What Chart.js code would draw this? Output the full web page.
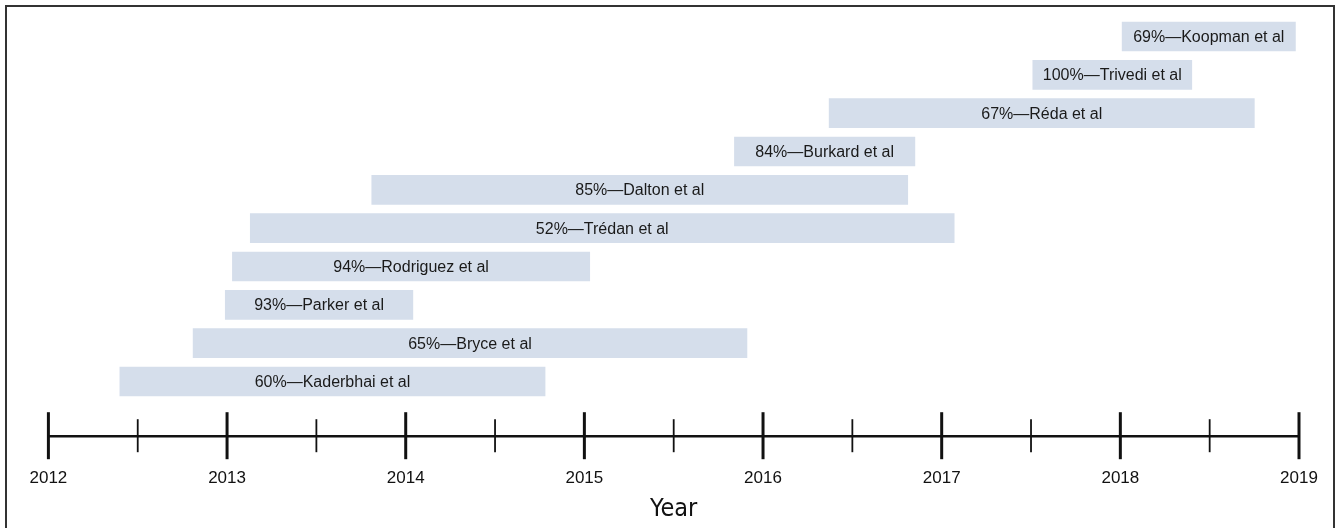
<!DOCTYPE html>
<html>
<head>
<meta charset="utf-8">
<script src="https://cdn.jsdelivr.net/npm/chart.js@4/dist/chart.umd.min.js"></script>
<style>
  body { margin: 0; background: #fff; }
  #wrap { width: 1339px; height: 528px; position: relative; }
</style>
</head>
<body>
<div id="wrap"><canvas id="timelineChart"></canvas></div>
<script>
// studies, listed top to bottom
const authors = ['Koopman', 'Trivedi', 'Réda', 'Burkard', 'Dalton', 'Trédan', 'Rodriguez', 'Parker', 'Bryce', 'Kaderbhai'];
const rates = [69, 100, 67, 84, 85, 52, 94, 93, 65, 60];
const startYears = [2018.01, 2017.51, 2016.37, 2015.84, 2013.81, 2013.13, 2013.03, 2012.99, 2012.81, 2012.40];
const endYears = [2018.98, 2018.40, 2018.75, 2016.85, 2016.81, 2017.07, 2015.03, 2014.04, 2015.91, 2014.78];
const yearTicks = [2012, 2013, 2014, 2015, 2016, 2017, 2018, 2019];

const barLabels = authors.map((a, i) => rates[i] + '%\u2014' + a + ' et al');

// timeline axis drawn under the bars, using the x scale
const timelineAxis = {
    id: 'timelineAxis',
    afterDraw(chart) {
        const ctx = chart.ctx;
        const x = chart.scales.x;
        const yLine = chart.chartArea.bottom + 35.5;
        ctx.save();
        ctx.strokeStyle = '#111';
        ctx.lineWidth = 2.5;
        ctx.beginPath();
        ctx.moveTo(x.getPixelForValue(yearTicks[0]), yLine);
        ctx.lineTo(x.getPixelForValue(yearTicks[yearTicks.length - 1]), yLine);
        ctx.stroke();
        // major ticks
        ctx.lineWidth = 3;
        yearTicks.forEach(v => {
            const px = x.getPixelForValue(v);
            ctx.beginPath();
            ctx.moveTo(px, yLine - 24);
            ctx.lineTo(px, yLine + 23);
            ctx.stroke();
        });
        // half-year ticks
        ctx.lineWidth = 1.8;
        for (let i = 0; i < yearTicks.length - 1; i++) {
            const px = x.getPixelForValue(yearTicks[i] + 0.5);
            ctx.beginPath();
            ctx.moveTo(px, yLine - 17);
            ctx.lineTo(px, yLine + 16);
            ctx.stroke();
        }
        // outer frame
        ctx.strokeStyle = '#333';
        ctx.lineWidth = 2;
        ctx.strokeRect(6, 6, 1328, 600);
        ctx.restore();
    }
};

// study names centred inside each bar
const barText = {
    id: 'barText',
    afterDatasetsDraw(chart) {
        const ctx = chart.ctx;
        const meta = chart.getDatasetMeta(0);
        ctx.save();
        ctx.font = '16px "Liberation Sans", Arial, sans-serif';
        ctx.fillStyle = '#1a1a1a';
        ctx.textAlign = 'center';
        ctx.textBaseline = 'middle';
        meta.data.forEach((bar, i) => {
            ctx.fillText(barLabels[i], (bar.x + bar.base) / 2, bar.y + 1);
        });
        ctx.restore();
    }
};

new Chart(document.getElementById('timelineChart'), {
    type: 'bar',
    data: {
        labels: authors,
        datasets: [{
            data: startYears.map((s, i) => [s, endYears[i]]),
            backgroundColor: '#d5deeb',
            borderWidth: 0,
            borderSkipped: false,
            barThickness: 29
        }]
    },
    options: {
        indexAxis: 'y',
        responsive: true,
        maintainAspectRatio: false,
        animation: false,
        layout: {
            padding: { top: 17.3, left: 48.4, right: 40, bottom: 0 }
        },
        plugins: {
            legend: { display: false },
            tooltip: { enabled: false }
        },
        scales: {
            y: { display: false },
            x: {
                type: 'linear',
                min: yearTicks[0],
                max: yearTicks[yearTicks.length - 1],
                border: { display: false },
                grid: { display: false, drawTicks: false },
                afterBuildTicks: scale => {
                    scale.ticks = yearTicks.map(v => ({ value: v }));
                },
                afterFit: scale => {
                    scale.height = 127.3;
                    scale.paddingLeft = 0;
                    scale.paddingRight = 0;
                },
                ticks: {
                    padding: 67,
                    color: '#111',
                    maxRotation: 0,
                    autoSkip: false,
                    font: { family: '"Liberation Sans", Arial, sans-serif', size: 17 },
                    callback: v => String(v)
                },
                title: {
                    display: true,
                    text: 'Year',
                    color: '#111',
                    font: { family: '"Liberation Sans Narrow", "DejaVu Sans Condensed", sans-serif', size: 25, lineHeight: 1 },
                    padding: { top: 0, bottom: 6.5 }
                }
            }
        }
    },
    plugins: [timelineAxis, barText]
});
</script>
</body>
</html>
